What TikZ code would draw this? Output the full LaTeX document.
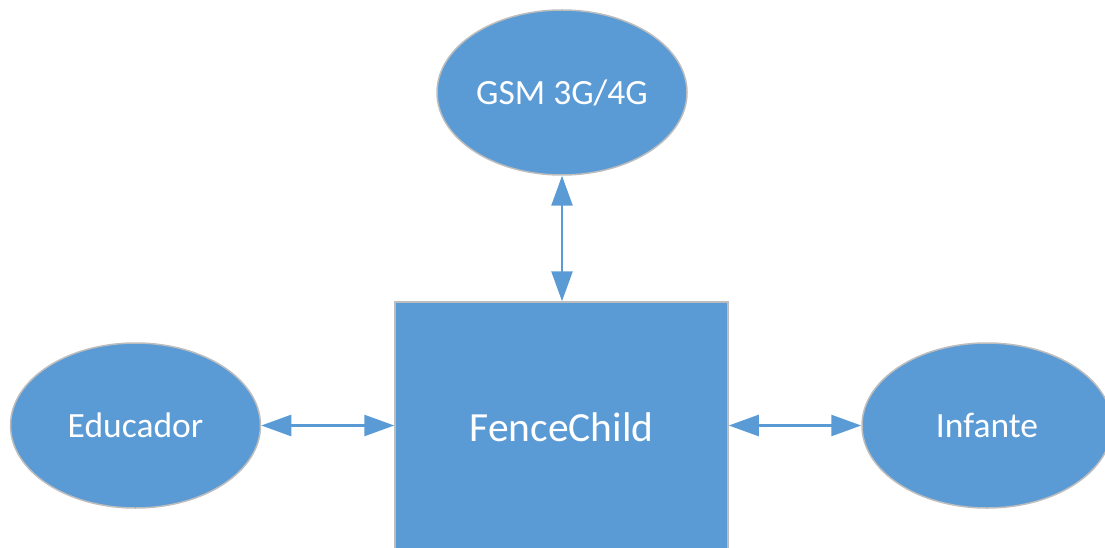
\documentclass[tikz,border=0pt]{standalone}
\usepackage{fontspec}
\setmainfont{Carlito}
\usetikzlibrary{shapes.geometric,arrows.meta}
\definecolor{boxblue}{HTML}{5B9BD5}
\definecolor{rimgray}{HTML}{BDBDBD}
\tikzset{
  blob/.style={ellipse, fill=boxblue, draw=rimgray, line width=1.5pt,
    minimum width=250pt, minimum height=165pt, inner sep=0pt,
    text=white, font=\fontsize{35.5}{42}\selectfont},
  core/.style={rectangle, fill=boxblue, draw=rimgray, line width=1.5pt,
    minimum width=333pt, minimum height=250pt, inner sep=0pt,
    text=white, font=\fontsize{41.5}{48}\selectfont},
  link/.style={draw=boxblue, line width=2.6pt,
    {Triangle[length=30pt,width=21pt]}-{Triangle[length=30pt,width=21pt]}}
}
\begin{document}
\begin{tikzpicture}[x=1pt,y=-1pt]
  \useasboundingbox (0,0) rectangle (1105,548);
  \node[core] (fc) at (561.5,427) {FenceChild};
  \node[blob] (gsm) at (562,92.5) {GSM 3G/4G};
  \node[blob] (edu) at (135.5,425.5) {Educador};
  \node[blob] (inf) at (987,425.5) {Infante};
  \draw[link] (gsm.south) -- (gsm.south |- fc.north);
  \draw[link] (edu.east) -- (edu.east -| fc.west);
  \draw[link] (inf.west -| fc.east) -- (inf.west);
\end{tikzpicture}
\end{document}
